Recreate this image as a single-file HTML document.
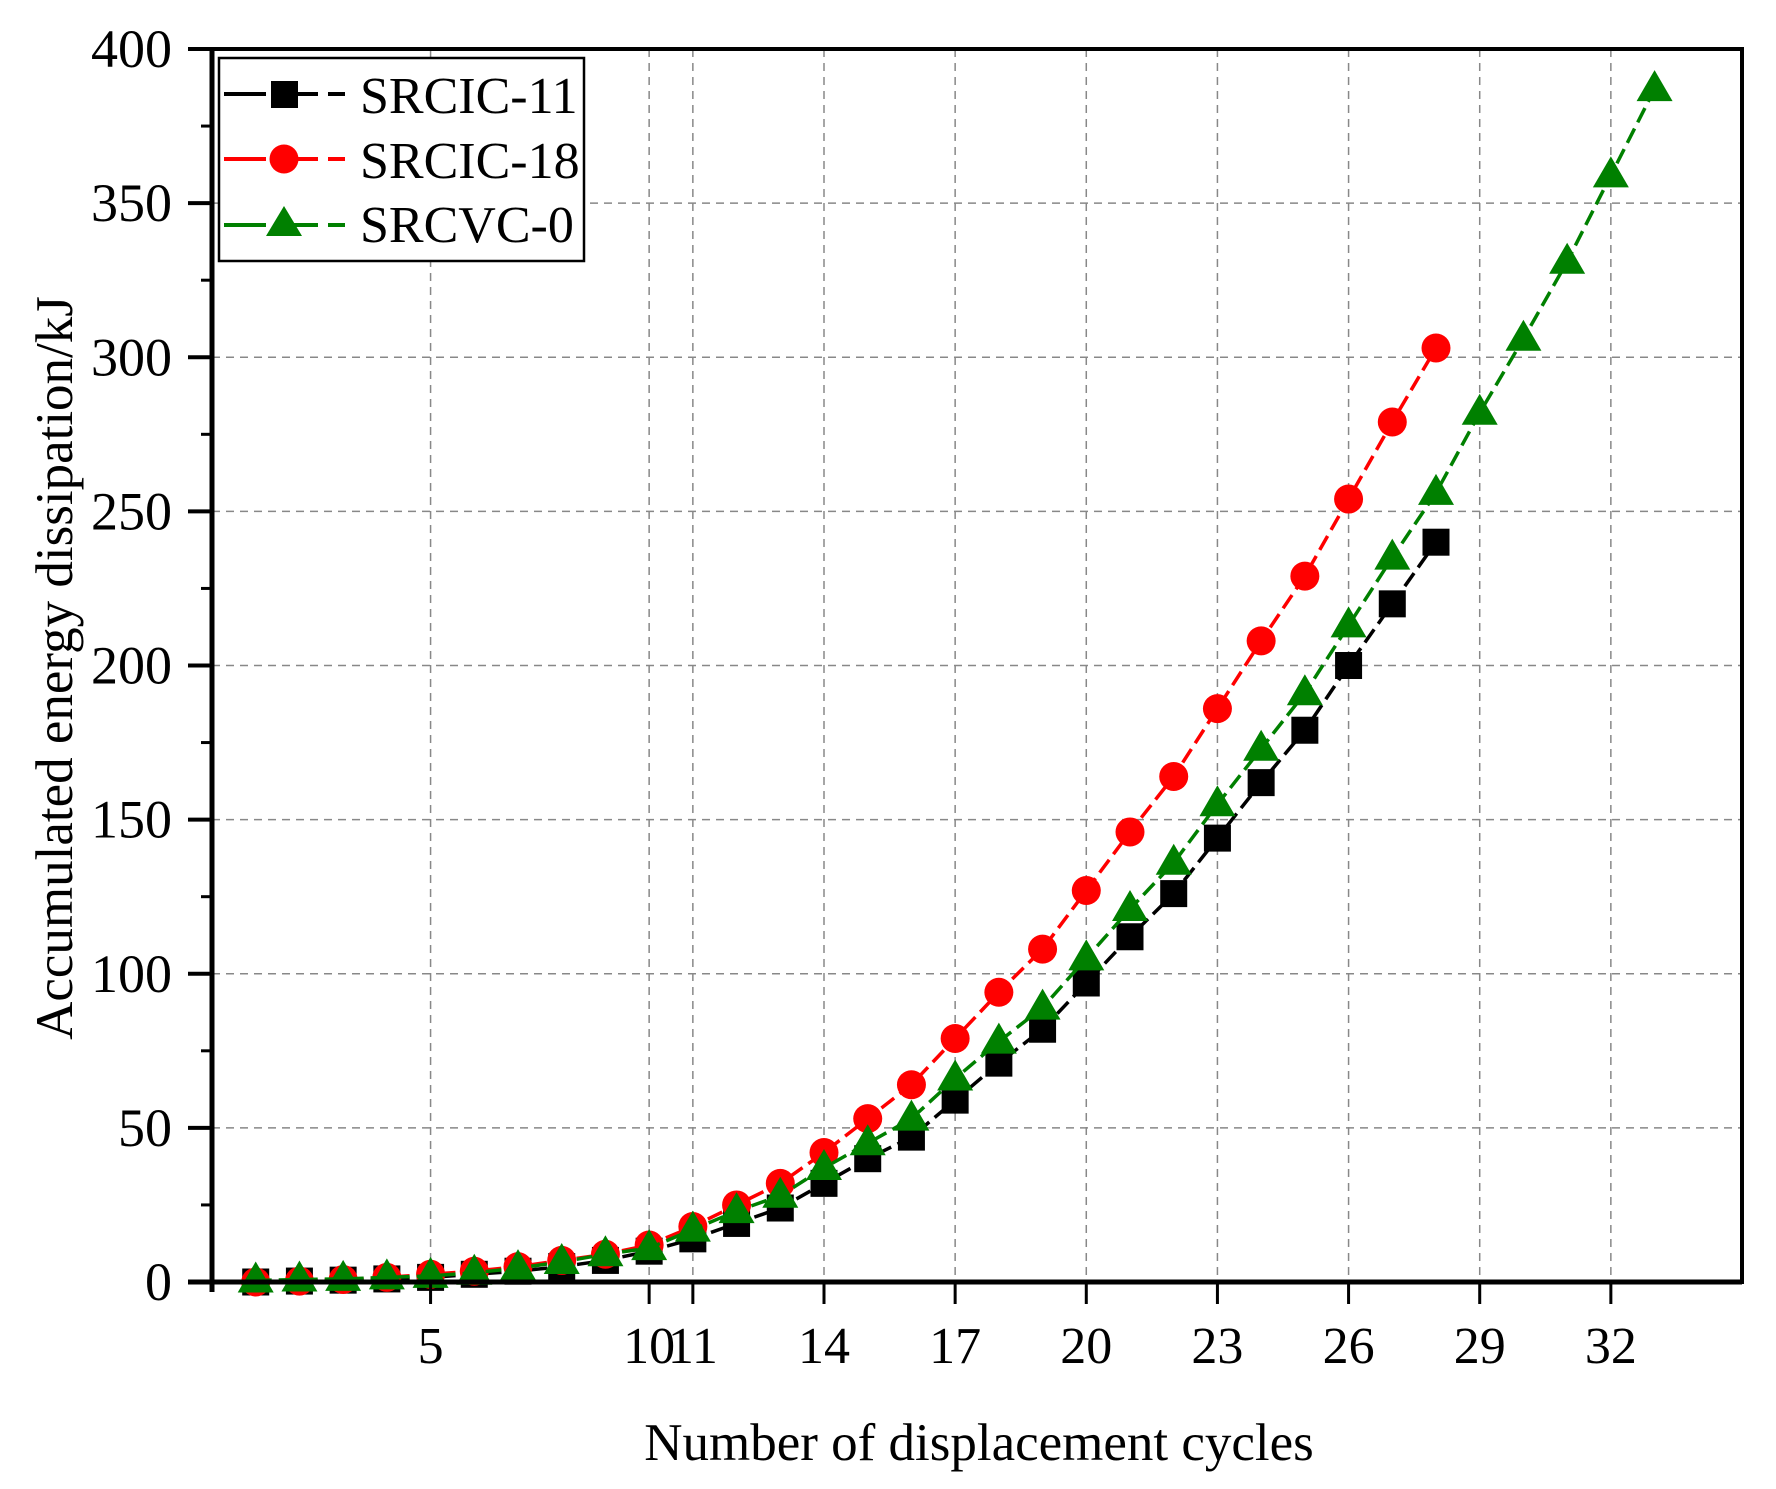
<!DOCTYPE html>
<html><head><meta charset="utf-8"><style>
html,body{margin:0;padding:0;background:#fff}
svg{display:block;font-family:"Liberation Serif",serif}
</style></head><body>
<svg id="chart" width="1776" height="1489" viewBox="0 0 1776 1489">
<g id="grid"></g>
<g id="series"></g>
<g id="axes"></g>
<text x="979" y="1460" font-size="53" text-anchor="middle">Number of displacement cycles</text>
<text transform="translate(72,668) rotate(-90)" font-size="53" text-anchor="middle">Accumulated energy dissipation/kJ</text>
<g>
<rect x="219" y="58" width="365" height="203" fill="#fff" stroke="#000" stroke-width="2.5"/>
<g>
<line x1="224" y1="94" x2="345" y2="94" stroke="#000" stroke-width="4" stroke-dasharray="42 10"/>
<rect x="271" y="81" width="27" height="27" fill="#000"/>
<text x="360" y="113" font-size="52">SRCIC-11</text></g>
<g>
<line x1="224" y1="159" x2="345" y2="159" stroke="#f00" stroke-width="4" stroke-dasharray="42 10"/>
<circle cx="284" cy="159" r="14.5" fill="#f00"/>
<text x="360" y="178" font-size="52">SRCIC-18</text></g>
<g>
<line x1="224" y1="225" x2="345" y2="225" stroke="#008000" stroke-width="4" stroke-dasharray="42 10"/>
<polygon points="284,206 302,236 266,236" fill="#008000"/>
<text x="360" y="242" font-size="52">SRCVC-0</text></g>
</g>
</svg>
<script>
const xTicks=[5,10,11,14,17,20,23,26,29,32];
const yTicks=[0,50,100,150,200,250,300,350,400];
const cycles11=[1,2,3,4,5,6,7,8,9,10,11,12,13,14,15,16,17,18,19,20,21,22,23,24,25,26,27,28];
const srcic11=[0,0.3,0.6,1,1.5,2.5,3.5,5,7,10,14,19,24,32,40,47,59,71,82,97,112,126,144,162,179,200,220,240];
const cycles18=[1,2,3,4,5,6,7,8,9,10,11,12,13,14,15,16,17,18,19,20,21,22,23,24,25,26,27,28];
const srcic18=[0,0.3,0.8,1.5,2.5,3.5,5,7,9,12,18,25,32,42,53,64,79,94,108,127,146,164,186,208,229,254,279,303];
const cycles0=[1,2,3,4,5,6,7,8,9,10,11,12,13,14,15,16,17,18,19,20,21,22,23,24,25,26,27,28,29,30,31,32,33];
const srcvc0=[0.5,0.8,1,1.5,2,3,4.5,6.5,9,11,17,23,28,37,45,53,66,78,89,105,121,136,155,173,191,213,235,256,282,306,331,359,387];

const NS="http://www.w3.org/2000/svg";
const L=212,R=1742,T=49,B=1282,XMAX=35,YMAX=400;
const sx=v=>L+v*(R-L)/XMAX;
const sy=v=>B-v*(B-T)/YMAX;
function mk(tag,attrs,parent){const e=document.createElementNS(NS,tag);for(const k in attrs)e.setAttribute(k,attrs[k]);parent.appendChild(e);return e;}
const grid=document.getElementById('grid'),axes=document.getElementById('axes'),ser=document.getElementById('series');

xTicks.forEach(t=>{
  const g=mk('line',{x1:sx(t),x2:sx(t),y1:T,y2:B,stroke:'#888','stroke-width':1.5,'stroke-dasharray':'8 6'},grid);
  
  
  const tk=mk('line',{x1:sx(t),x2:sx(t),y1:B,y2:B+22,stroke:'#000','stroke-width':3},axes);
  
  
  const lb=mk('text',{x:sx(t),y:1363,'font-size':52,'text-anchor':'middle'},axes);
  lb.textContent=t;
  
  
});
yTicks.forEach(t=>{
  if(t>0&&t<400){const g=mk('line',{x1:L,x2:R,y1:sy(t),y2:sy(t),stroke:'#888','stroke-width':1.5,'stroke-dasharray':'8 6'},grid);
  
  }
  const tk=mk('line',{x1:188,x2:L,y1:sy(t),y2:sy(t),stroke:'#000','stroke-width':4},axes);
  
  
  if(t<400){const m=mk('line',{x1:201,x2:L,y1:sy(t+25),y2:sy(t+25),stroke:'#000','stroke-width':3},axes);
  
  }
  const lb=mk('text',{x:172,y:sy(t)+18,'font-size':54,'text-anchor':'end'},axes);
  lb.textContent=t;
  
  
});
const frame=mk('rect',{x:L,y:T,width:R-L,height:B-T,fill:'none',stroke:'#000','stroke-width':4},axes);


const xa=mk('line',{x1:188,x2:R,y1:B,y2:B,stroke:'#000','stroke-width':5},axes);


const ya=mk('line',{x1:L,x2:L,y1:T,y2:1292,stroke:'#000','stroke-width':5},axes);



function series(xs,ys,color,shape,name){
  const g=mk('g',{},ser);
  
  
  const pts=xs.map((x,i)=>sx(x)+','+sy(ys[i])).join(' ');
  const pl=mk('polyline',{points:pts,fill:'none',stroke:color,'stroke-width':3.5,'stroke-dasharray':'16 7'},g);
  
  
  xs.forEach((x,i)=>{
    const cx=sx(x),cy=sy(ys[i]);let m;
    if(shape==='sq')m=mk('rect',{x:cx-13.5,y:cy-13.5,width:27,height:27,fill:color},g);
    else if(shape==='ci')m=mk('circle',{cx:cx,cy:cy,r:14.5,fill:color},g);
    else m=mk('polygon',{points:`${cx},${cy-19} ${cx+18},${cy+12} ${cx-18},${cy+12}`,fill:color},g);
    
    
  });
}
series(cycles11,srcic11,'#000','sq','srcic-11-series');
series(cycles18,srcic18,'#f00','ci','srcic-18-series');
series(cycles0,srcvc0,'#008000','tr','srcvc-0-series');
</script>
</body></html>
